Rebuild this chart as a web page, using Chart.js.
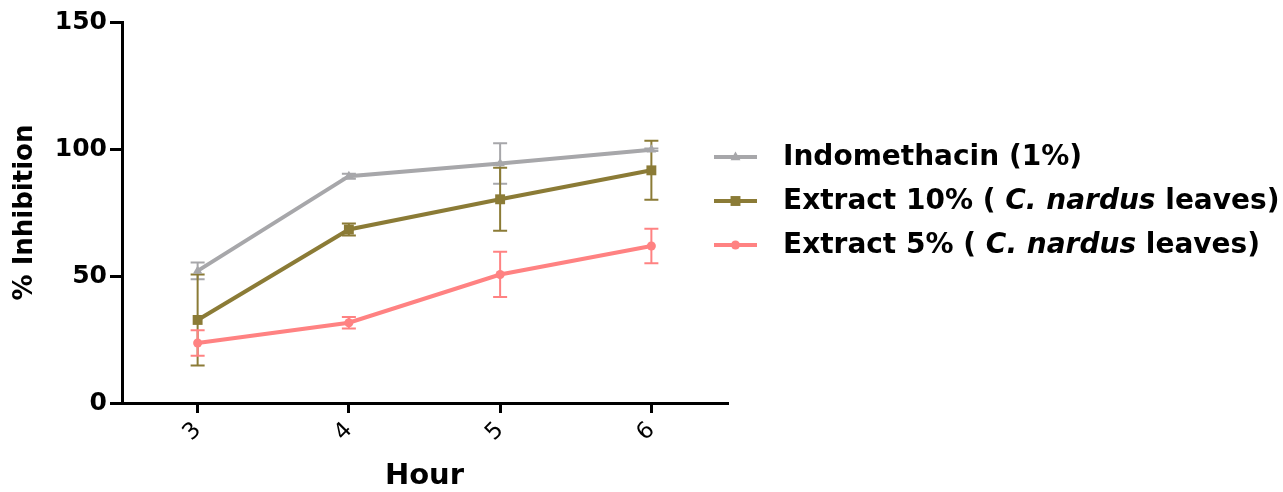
<!DOCTYPE html>
<html>
<head>
<meta charset="utf-8">
<script src="https://cdn.jsdelivr.net/npm/chart.js@4/dist/chart.umd.min.js"></script>
<style>
  html, body { margin: 0; padding: 0; background: #fff; }
  #wrap { width: 1283px; height: 492px; }
</style>
</head>
<body>
<div id="wrap"><canvas id="c" width="1283" height="492"></canvas></div>
<script>
// ---- Data ----
const hours = ['3', '4', '5', '6'];
const yTicks = [0, 50, 100, 150];

const indomethacin    = [52.0, 89.3, 94.3, 99.7];
const indomethacinErr = [3.3, 1.0, 8.0, 0.5];

const extract10    = [32.7, 68.3, 80.2, 91.6];
const extract10Err = [17.9, 2.4, 12.4, 11.6];

const extract5    = [23.6, 31.6, 50.6, 61.8];
const extract5Err = [5.0, 2.3, 8.9, 6.8];

const seriesLabels = [
  [['Indomethacin (1%)', false]],
  [['Extract 10% ( ', false], ['C. nardus', true], [' leaves)', false]],
  [['Extract 5% ( ', false], ['C. nardus', true], [' leaves)', false]]
];

const GREY = '#A7A7AA', OLIVE = '#8B7B36', PINK = '#FF8282';
const FONT = '"DejaVu Sans", sans-serif';

function drawMarker(ctx, style, x, y, r, color) {
  ctx.save();
  ctx.fillStyle = color;
  ctx.beginPath();
  if (style === 'triangle') {
    ctx.moveTo(x, y - r);
    ctx.lineTo(x + r * 0.9, y + r * 0.6);
    ctx.lineTo(x - r * 0.9, y + r * 0.6);
    ctx.closePath();
  } else if (style === 'rect') {
    const s = r * Math.SQRT1_2;
    ctx.rect(x - s, y - s, 2 * s, 2 * s);
  } else {
    ctx.arc(x, y, r, 0, Math.PI * 2);
  }
  ctx.fill();
  ctx.restore();
}

const errorBars = {
  id: 'errorBars',
  beforeDatasetsDraw(chart) {
    const ctx = chart.ctx, ys = chart.scales.y;
    chart.data.datasets.forEach((ds, i) => {
      const meta = chart.getDatasetMeta(i);
      ctx.save();
      ctx.strokeStyle = ds.borderColor;
      ctx.lineWidth = 2;
      meta.data.forEach((pt, j) => {
        const e = ds.errors[j];
        if (!e) return;
        const top = ys.getPixelForValue(ds.data[j] + e);
        const bot = ys.getPixelForValue(ds.data[j] - e);
        const x = pt.x, cw = 7;
        ctx.beginPath();
        ctx.moveTo(x, top); ctx.lineTo(x, bot);
        ctx.moveTo(x - cw, top); ctx.lineTo(x + cw, top);
        ctx.moveTo(x - cw, bot); ctx.lineTo(x + cw, bot);
        ctx.stroke();
      });
      ctx.restore();
    });
  }
};

const customLegend = {
  id: 'customLegend',
  afterDraw(chart) {
    const ctx = chart.ctx;
    const x0 = 714, x1 = 757, tx = 783, y0 = 157, dy = 44;
    chart.data.datasets.forEach((ds, i) => {
      const y = y0 + i * dy;
      ctx.save();
      ctx.strokeStyle = ds.borderColor;
      ctx.lineWidth = 4;
      ctx.beginPath(); ctx.moveTo(x0, y); ctx.lineTo(x1, y); ctx.stroke();
      drawMarker(ctx, ds.pointStyle, (x0 + x1) / 2, y, ds.pointRadius, ds.borderColor);
      ctx.fillStyle = '#000';
      ctx.textBaseline = 'middle';
      let x = tx;
      seriesLabels[i].forEach(([txt, it]) => {
        ctx.font = (it ? 'italic ' : '') + 'bold 28px ' + FONT;
        ctx.fillText(txt, x, y + 1);
        x += ctx.measureText(txt).width;
      });
      ctx.restore();
    });
  }
};

const mk = (label, data, errs, color, style, r) => ({
  label, data, errors: errs,
  borderColor: color, backgroundColor: color,
  pointBackgroundColor: color, pointBorderColor: color,
  pointStyle: style, pointRadius: r, pointBorderWidth: 0,
  borderWidth: 4, tension: 0, fill: false
});

new Chart(document.getElementById('c'), {
  type: 'line',
  data: {
    labels: hours,
    datasets: [
      mk('Indomethacin (1%)', indomethacin, indomethacinErr, GREY, 'triangle', 5.5),
      mk('Extract 10% (C. nardus leaves)', extract10, extract10Err, OLIVE, 'rect', 7),
      mk('Extract 5% (C. nardus leaves)', extract5, extract5Err, PINK, 'circle', 4.5)
    ]
  },
  options: {
    responsive: false,
    devicePixelRatio: 1,
    animation: false,
    layout: { padding: { top: 22, right: 556, left: 0, bottom: 0 } },
    plugins: { legend: { display: false }, tooltip: { enabled: false } },
    scales: {
      x: {
        type: 'category',
        offset: true,
        afterFit(s) { s.height = 89; },
        grid: { offset: false, drawOnChartArea: false, drawTicks: true, tickLength: 10, color: '#000', lineWidth: 3 },
        border: { color: '#000', width: 3 },
        ticks: { color: '#000', font: { family: FONT, size: 23 }, minRotation: 45, maxRotation: 45, padding: 4 },
        title: { display: true, text: 'Hour', color: '#000', font: { family: FONT, size: 29, weight: 'bold' }, padding: { top: 0, bottom: -2 } }
      },
      y: {
        min: 0, max: 150,
        afterFit(s) { s.width = 122; },
        afterBuildTicks(s) { s.ticks = yTicks.map(v => ({ value: v })); },
        grid: { drawOnChartArea: false, drawTicks: true, tickLength: 12, color: '#000', lineWidth: 3 },
        border: { color: '#000', width: 3 },
        ticks: { color: '#000', font: { family: FONT, size: 25, weight: 'bold' }, padding: 3 },
        title: { display: true, text: '% Inhibition', color: '#000', font: { family: FONT, size: 26, weight: 'bold' }, padding: { top: 10, bottom: 0 } }
      }
    }
  },
  plugins: [errorBars, customLegend]
});
</script>
</body>
</html>
